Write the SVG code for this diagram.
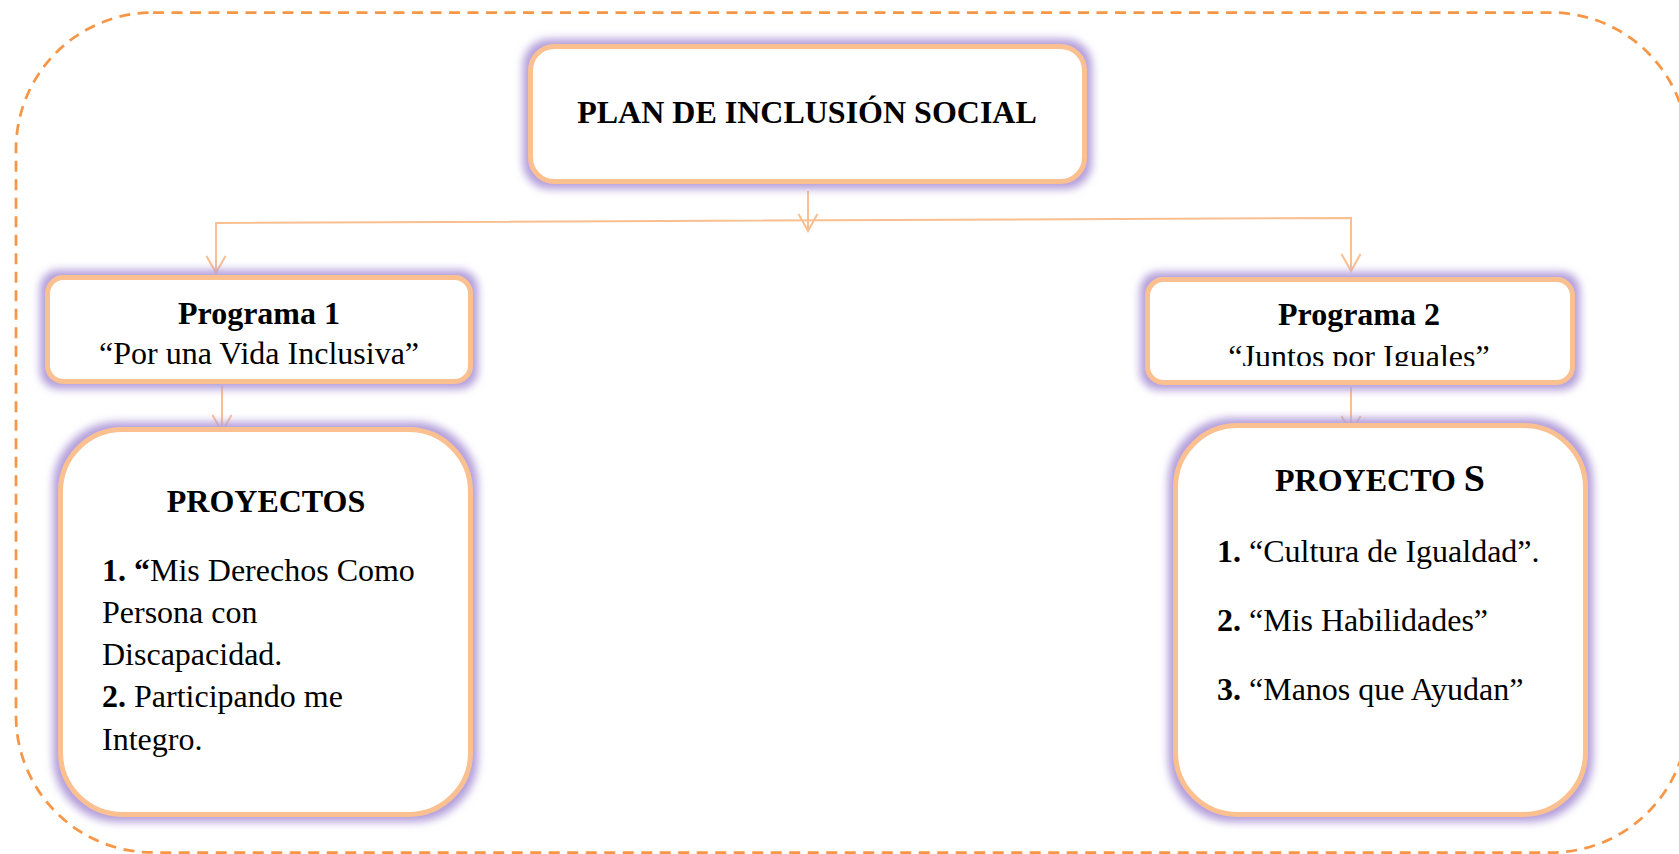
<svg xmlns="http://www.w3.org/2000/svg" width="1679" height="854" viewBox="0 0 1679 854">
<style>
.box{fill:#ffffff;stroke:#FAC08F;stroke-width:5;filter:url(#glow)}
.t{font-family:"Liberation Serif","Times New Roman",serif;font-size:32px;fill:#000}
.b{font-weight:bold}
.c{text-anchor:middle}
.con{fill:none;stroke:#F9BF90;stroke-width:2}
</style>
<defs>
<filter id="glow" x="-15%" y="-25%" width="130%" height="150%">
<feMorphology in="SourceAlpha" operator="dilate" radius="5" result="d"/>
<feGaussianBlur in="d" stdDeviation="4" result="bl"/>
<feFlood flood-color="#B29DDA"/>
<feComposite in2="bl" operator="in"/>
<feMerge><feMergeNode/><feMergeNode in="SourceGraphic"/></feMerge>
</filter>
<marker id="arr" markerUnits="userSpaceOnUse" viewBox="-20 -12 22 24" markerWidth="22" markerHeight="24" refX="0" refY="0" orient="auto-start-reverse">
<path d="M-17,-9.5 L0,0 L-17,9.5" fill="none" stroke="#F9BF90" stroke-width="2"/>
</marker>
<clipPath id="clipP2"><rect x="1150" y="280" width="420" height="86"/></clipPath>
</defs>
<rect width="1679" height="854" fill="#ffffff"/>
<rect id="frame" x="16" y="12.5" width="1672" height="840" rx="137" ry="137" fill="none" stroke="#F79646" stroke-width="2.75" stroke-dasharray="11 7.5"/>

<g id="connectors">
<path class="con" d="M808,191 V231" marker-end="url(#arr)"/>
<path class="con" d="M216,273 V223 L1351,218 V271" marker-start="url(#arr)" marker-end="url(#arr)"/>
<path class="con" d="M222,386 V432" marker-end="url(#arr)"/>
<path class="con" d="M1351,387 V433" marker-end="url(#arr)"/>
</g>

<g id="plan">
<rect class="box" x="530.5" y="46.5" width="554" height="135" rx="24"/>
<text class="t b c" x="807" y="123">PLAN DE INCLUSIÓN SOCIAL</text>
</g>

<g id="programa1">
<rect class="box" x="47.5" y="277.5" width="423" height="104" rx="16"/>
<text class="t b c" x="259" y="324">Programa 1</text>
<text class="t c" x="259" y="364">“Por una Vida Inclusiva”</text>
</g>

<g id="programa2">
<rect class="box" x="1147.5" y="279.5" width="425" height="103" rx="16"/>
<text class="t b c" x="1359" y="325">Programa 2</text>
<text class="t c" x="1359" y="367" clip-path="url(#clipP2)">“Juntos por Iguales”</text>
</g>

<g id="proyectos1">
<rect class="box" x="60.5" y="429.5" width="410" height="385" rx="62"/>
<text class="t b c" x="266" y="512">PROYECTOS</text>
<text class="t" x="102" y="581"><tspan class="b">1. “</tspan>Mis Derechos Como</text>
<text class="t" x="102" y="623">Persona con</text>
<text class="t" x="102" y="665">Discapacidad.</text>
<text class="t" x="102" y="707"><tspan class="b">2.</tspan> Participando me</text>
<text class="t" x="102" y="750">Integro.</text>
</g>

<g id="proyectos2">
<rect class="box" x="1175.5" y="425.5" width="410" height="389" rx="62"/>
<text class="t b c" x="1380" y="491">PROYECTO <tspan font-size="38">S</tspan></text>
<text class="t" x="1217" y="562"><tspan class="b">1.</tspan> “Cultura de Igualdad”.</text>
<text class="t" x="1217" y="631"><tspan class="b">2.</tspan> “Mis Habilidades”</text>
<text class="t" x="1217" y="700"><tspan class="b">3.</tspan> “Manos que Ayudan”</text>
</g>
</svg>
